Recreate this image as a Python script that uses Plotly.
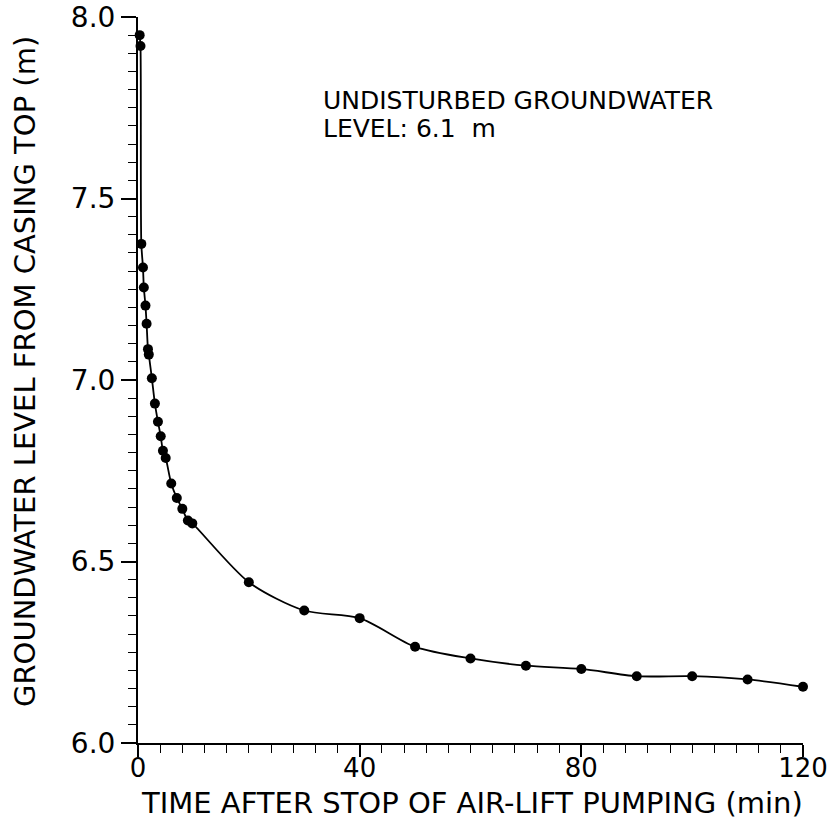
import plotly.graph_objects as go

# Time after stop of pumping (min)
time_min = [0.3, 0.45, 0.6, 0.9, 1.05, 1.35, 1.55, 1.8, 1.95, 2.5, 3.05,
            3.6, 4.1, 4.5, 5.0, 6.0, 7.0, 8.0, 9.0, 9.8,
            20, 30, 40, 50, 60, 70, 80, 90, 100, 110, 120]
# Groundwater level from casing top (m)
level_m = [7.95, 7.92, 7.375, 7.31, 7.255, 7.205, 7.155, 7.085, 7.07, 7.005, 6.935,
           6.885, 6.845, 6.805, 6.785, 6.715, 6.675, 6.645, 6.613, 6.605,
           6.443, 6.365, 6.344, 6.265, 6.233, 6.213, 6.204, 6.184, 6.184, 6.175, 6.155]

x_ticks = [0, 40, 80, 120]
y_ticks = [6.0, 6.5, 7.0, 7.5, 8.0]
y_tick_text = ["6.0", "6.5", "7.0", "7.5", "8.0"]

note_lines = ["UNDISTURBED GROUNDWATER", "LEVEL: 6.1  m"]
x_title = "TIME AFTER STOP OF AIR-LIFT PUMPING (min)"
y_title = "GROUNDWATER LEVEL FROM CASING TOP (m)"

FONT = "DejaVu Sans"

fig = go.Figure()
fig.add_trace(go.Scatter(
    x=time_min, y=level_m, mode="lines+markers",
    line=dict(color="black", width=1.8, shape="spline", smoothing=0.8),
    marker=dict(color="black", size=10),
    cliponaxis=False, showlegend=False,
))

axis_common = dict(
    showgrid=False, zeroline=False, showline=True, linecolor="black", linewidth=2,
    ticks="outside", tickcolor="black", tickwidth=1.6, automargin=False,
    ticklabeloverflow="allow",
)

fig.update_xaxes(
    range=[0, 120], tickvals=x_ticks, ticklen=12, ticklabelstandoff=-11,
    tickfont=dict(family=FONT, size=26, color="black"),
    minor=dict(dtick=4, ticklen=8, ticks="outside", tickcolor="black", tickwidth=1.4),
    **axis_common,
)
fig.update_yaxes(
    range=[6, 8], tickvals=y_ticks, ticktext=y_tick_text, ticklen=15, ticklabelstandoff=0,
    tickfont=dict(family=FONT, size=28, color="black"),
    minor=dict(dtick=0.05, ticklen=8, ticks="outside", tickcolor="black", tickwidth=1.4),
    **axis_common,
)

L, R, T, B = 138, 26, 17, 77
W, H = 829, 820
pw, ph = W - L - R, H - T - B

ann = [
    dict(x=33.0, y=7.769, xref="x", yref="y", text=note_lines[0], showarrow=False,
         xanchor="left", yanchor="middle", font=dict(family=FONT, size=25, color="black")),
    dict(x=33.0, y=7.694, xref="x", yref="y", text=note_lines[1], showarrow=False,
         xanchor="left", yanchor="middle", font=dict(family=FONT, size=25, color="black")),
    dict(x=(472 - L) / pw, y=(H - B - 803) / ph, xref="paper", yref="paper", text=x_title,
         showarrow=False, xanchor="center", yanchor="middle",
         font=dict(family=FONT, size=29, color="black")),
    dict(x=(25 - L) / pw, y=(H - B - 372) / ph, xref="paper", yref="paper", text=y_title,
         showarrow=False, textangle=-90, xanchor="center", yanchor="middle",
         font=dict(family=FONT, size=29, color="black")),
]

fig.update_layout(
    width=W, height=H, margin=dict(l=L, r=R, t=T, b=B, autoexpand=False),
    paper_bgcolor="white", plot_bgcolor="white",
    annotations=ann, font=dict(family=FONT, color="black"),
)

fig.write_html("out.html")
